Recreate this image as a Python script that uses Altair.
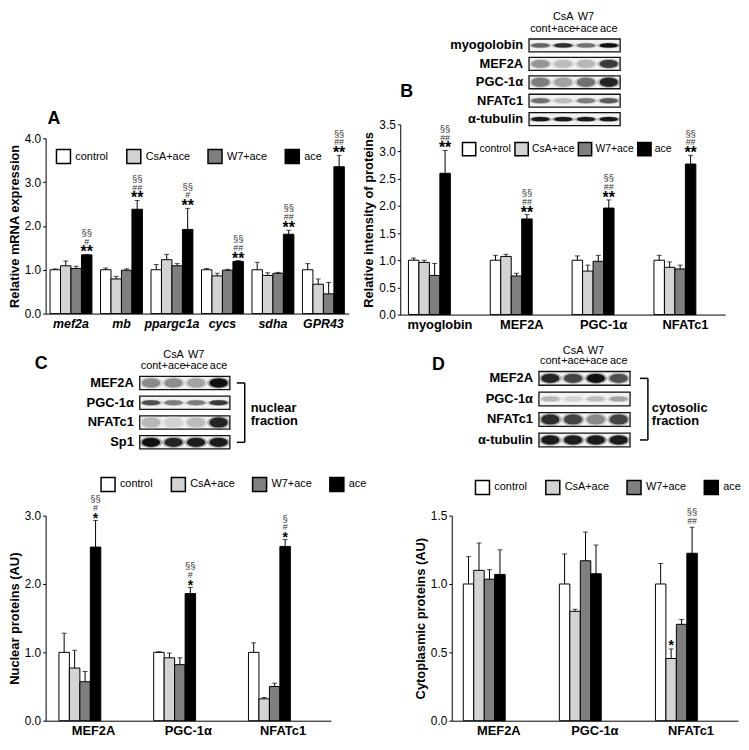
import altair as alt
import pandas as pd

FONT = "Liberation Sans"

groups = ["control", "CsA+ace", "W7+ace", "ace"]
group_fills = ["#ffffff", "#d3d3d3", "#7f7f7f", "#000000"]

# ---------------- Panel A (mRNA) ----------------
a_cats = ["mef2a", "mb", "ppargc1a", "cycs", "sdha", "GPR43"]
a_control = [1.00, 1.00, 1.00, 1.00, 1.00, 1.00]
a_csa = [1.09, 0.79, 1.23, 0.86, 0.87, 0.67]
a_w7 = [1.03, 0.99, 1.09, 0.99, 0.92, 0.45]
a_ace = [1.34, 2.38, 1.92, 1.19, 1.81, 3.35]
a_control_err = [0.02, 0.04, 0.12, 0.03, 0.17, 0.14]
a_csa_err = [0.11, 0.06, 0.12, 0.06, 0.06, 0.12]
a_w7_err = [0.05, 0.03, 0.05, 0.02, 0.02, 0.26]
a_ace_err = [0.01, 0.20, 0.48, 0.02, 0.09, 0.26]
a_ace_star = ["**", "**", "**", "**", "**", "**"]
a_ace_hash = ["#", "##", "#", "##", "##", "##"]
a_ace_sect = ["§§", "§§", "§§", "§§", "§§", "§§"]

# ---------------- Panel B (proteins) ----------------
b_cats = ["myoglobin", "MEF2A", "PGC-1α", "NFATc1"]
b_control = [1.00, 1.00, 1.00, 1.00]
b_csa = [0.96, 1.07, 0.80, 0.87]
b_w7 = [0.72, 0.71, 0.98, 0.84]
b_ace = [2.60, 1.76, 1.96, 2.77]
b_control_err = [0.04, 0.09, 0.08, 0.09]
b_csa_err = [0.04, 0.04, 0.11, 0.10]
b_w7_err = [0.22, 0.05, 0.11, 0.07]
b_ace_err = [0.42, 0.08, 0.15, 0.16]
b_ace_star = ["**", "**", "**", "**"]
b_ace_hash = ["##", "##", "##", "##"]
b_ace_sect = ["§§", "§§", "§§", "§§"]
b_blot_rows = ["myogolobin", "MEF2A", "PGC-1α", "NFATc1", "α-tubulin"]
b_blot = [[0.55, 0.80, 0.50, 0.95],
          [0.35, 0.20, 0.22, 0.75],
          [0.45, 0.30, 0.50, 0.85],
          [0.50, 0.20, 0.45, 0.60],
          [0.90, 0.90, 0.90, 0.92]]

# ---------------- Panel C (nuclear) ----------------
c_cats = ["MEF2A", "PGC-1α", "NFATc1"]
c_control = [1.00, 1.00, 1.00]
c_csa = [0.77, 0.92, 0.32]
c_w7 = [0.57, 0.82, 0.50]
c_ace = [2.54, 1.86, 2.55]
c_control_err = [0.28, 0.01, 0.14]
c_csa_err = [0.26, 0.07, 0.02]
c_w7_err = [0.15, 0.10, 0.05]
c_ace_err = [0.39, 0.09, 0.10]
c_ace_star = ["*", "*", "*"]
c_ace_hash = ["#", "#", "#"]
c_ace_sect = ["§§", "§§", "§"]
c_blot_rows = ["MEF2A", "PGC-1α", "NFATc1", "Sp1"]
c_blot = [[0.40, 0.38, 0.30, 0.95],
          [0.65, 0.45, 0.45, 0.75],
          [0.22, 0.12, 0.20, 0.85],
          [0.95, 0.85, 0.90, 0.90]]

# ---------------- Panel D (cytosolic) ----------------
d_cats = ["MEF2A", "PGC-1α", "NFATc1"]
d_control = [1.00, 1.00, 1.00]
d_csa = [1.10, 0.80, 0.455]
d_w7 = [1.035, 1.17, 0.705]
d_ace = [1.07, 1.075, 1.225]
d_control_err = [0.20, 0.22, 0.15]
d_csa_err = [0.20, 0.015, 0.07]
d_w7_err = [0.07, 0.21, 0.035]
d_ace_err = [0.18, 0.21, 0.19]
d_csa_star = ["", "", "*"]
d_ace_hash = ["", "", "##"]
d_ace_sect = ["", "", "§§"]
d_blot_rows = ["MEF2A", "PGC-1α", "NFATc1", "α-tubulin"]
d_blot = [[0.85, 0.70, 0.95, 0.65],
          [0.22, 0.12, 0.20, 0.30],
          [0.80, 0.70, 0.40, 0.70],
          [0.90, 0.90, 0.90, 0.90]]

lane_top = ["", "CsA", "W7", ""]
lane_bottom = ["cont", "+ace", "+ace", "ace"]
lane_pos = [0.5, 1.5, 2.5, 3.5]


def panel_df(cats, vals, errs, ann):
    recs = []
    for gi, g in enumerate(groups):
        a = ann.get(g, {})
        for ci, c in enumerate(cats):
            v = vals[gi][ci]
            e = errs[gi][ci]
            recs.append({
                "cat": c, "group": g, "value": v, "top": v + e,
                "star": a.get("star", [""] * len(cats))[ci],
                "hash": a.get("hash", [""] * len(cats))[ci],
                "sect": a.get("sect", [""] * len(cats))[ci],
            })
    return pd.DataFrame(recs)


def text_chart(txt, x, y, size=18, weight="bold", align="left", opacity=1.0):
    return alt.Chart(pd.DataFrame({"t": [txt]})).mark_text(
        align=align, baseline="middle", fontSize=size, fontWeight=weight, color="black",
        font=FONT, opacity=opacity).encode(x=alt.value(x), y=alt.value(y), text="t:N")


def bar_layers(df, cats, ymax, yticks, ytitle, yrange, pin, pout, italic, catsize,
               lx, ly, dys, starsize, colpad=12, legfont=11, symsize=200, laboff=4):
    xenc = alt.X("cat:N", sort=cats,
                 scale=alt.Scale(domain=cats, paddingInner=pin, paddingOuter=pout),
                 axis=alt.Axis(title=None, labelAngle=0, ticks=False, labelFontWeight="bold",
                               labelFontStyle="italic" if italic else "normal",
                               labelFontSize=catsize, labelPadding=4, labelColor="black",
                               domainColor="black", labelFont=FONT))
    xo = alt.XOffset("group:N", sort=groups,
                     scale=alt.Scale(domain=groups, paddingInner=0, paddingOuter=0))
    ys = alt.Scale(domain=[0, ymax], nice=False, zero=True, range=yrange)
    yax = alt.Axis(title=ytitle, values=yticks, format=".1f", grid=False, tickSize=3,
                   tickColor="black", domainColor="black", labelColor="black",
                   labelFontSize=12, titleFontSize=13, titleFontWeight="bold",
                   titleColor="black", labelPadding=2, titlePadding=3,
                   labelFont=FONT, titleFont=FONT)
    base = alt.Chart(df)
    bars = base.mark_bar(stroke="black", strokeWidth=1).encode(
        x=xenc, xOffset=xo,
        y=alt.Y("value:Q", scale=ys, axis=yax),
        fill=alt.Fill("group:N", sort=groups,
                      scale=alt.Scale(domain=groups, range=group_fills),
                      legend=alt.Legend(title=None, orient="none", legendX=lx, legendY=ly,
                                        direction="horizontal", symbolType="square",
                                        symbolSize=symsize, symbolStrokeColor="black",
                                        symbolStrokeWidth=1.5, symbolOpacity=1,
                                        labelFontSize=legfont, labelColor="black",
                                        labelOffset=laboff, columnPadding=colpad,
                                        labelFont=FONT, padding=0)))
    err = base.mark_rule(color="black", strokeWidth=1).encode(
        x=xenc, xOffset=xo, y=alt.Y("value:Q", scale=ys, axis=yax), y2="top:Q")
    cap = base.mark_tick(orient="horizontal", size=5, thickness=1, color="black").encode(
        x=xenc, xOffset=xo, y=alt.Y("top:Q", scale=ys, axis=yax))
    layers = [bars, err, cap]
    specs = [("star", dys[0], starsize, "bold", "black"),
             ("hash", dys[1], 9, "normal", "#333333"),
             ("sect", dys[2], 9.5, "normal", "#333333")]
    for field, dy, size, weight, color in specs:
        layers.append(base.transform_filter(f"datum.{field} != ''").mark_text(
            baseline="alphabetic", dy=dy, fontSize=size, fontWeight=weight, color=color,
            font=FONT).encode(
            x=xenc, xOffset=xo, y=alt.Y("top:Q", scale=ys, axis=yax),
            text=f"{field}:N"))
    return layers


def ellipse(half_px):
    r = (half_px / 9.1) / 0.75
    return f"M-1,0C-1,{-r:.3f} 1,{-r:.3f} 1,0C1,{r:.3f} -1,{r:.3f} -1,0Z"


def blot_layers(rows, intens, thick, xrange, yrange, pin, pout, head_y, bracket=None):
    band_df = pd.DataFrame([{"row": r, "lane": lane_pos[li], "dark": intens[ri][li]}
                            for ri, r in enumerate(rows) for li in range(4)])
    box_df = pd.DataFrame({"row": rows, "x0": [0] * len(rows), "x1": [4] * len(rows)})
    xs = alt.Scale(domain=[0, 4], range=xrange, nice=False, zero=False)
    ys = alt.Scale(domain=rows, range=yrange, paddingInner=pin, paddingOuter=pout)
    yenc = alt.Y("row:N", scale=ys, axis=None, sort=rows)
    boxes = alt.Chart(box_df).mark_rect(fill="#f2f2f2", stroke="#111111", strokeWidth=1.3).encode(
        x=alt.X("x0:Q", scale=xs, axis=None), x2="x1:Q", y=yenc)
    shapes = [ellipse(t) for t in thick]
    shape_enc = alt.Shape("row:N", scale=alt.Scale(domain=rows, range=shapes), legend=None)
    col_enc = alt.Color("dark:Q", scale=alt.Scale(domain=[0, 1], range=["#f2f2f2", "#000000"]),
                        legend=None)
    halo = alt.Chart(band_df).mark_point(filled=True, opacity=0.35, strokeWidth=0, size=520).encode(
        x=alt.X("lane:Q", scale=xs, axis=None), y=yenc, shape=shape_enc, color=col_enc)
    bands = alt.Chart(band_df).mark_point(filled=True, opacity=1, strokeWidth=0, size=330).encode(
        x=alt.X("lane:Q", scale=xs, axis=None), y=yenc, shape=shape_enc, color=col_enc)
    lab_df = pd.DataFrame({"row": rows, "x0": [0] * len(rows)})
    labels = alt.Chart(lab_df).mark_text(align="right", dx=-6, fontWeight="bold", fontSize=13,
                                         color="black", font=FONT).encode(
        x=alt.X("x0:Q", scale=xs, axis=None), y=yenc, text="row:N")
    hdf = pd.DataFrame({"lane": lane_pos, "top": lane_top, "bottom": lane_bottom})
    h1 = alt.Chart(hdf).mark_text(baseline="middle", fontSize=11, color="black", font=FONT).encode(
        x=alt.X("lane:Q", scale=xs, axis=None), y=alt.value(head_y[1]), text="bottom:N")
    h2 = alt.Chart(hdf).mark_text(baseline="middle", fontSize=11, color="black", font=FONT).encode(
        x=alt.X("lane:Q", scale=xs, axis=None), y=alt.value(head_y[0]), text="top:N")
    layers = [boxes, halo, bands, labels, h1, h2]
    if bracket is not None:
        bx, tx, ty, txt = bracket
        bdf = pd.DataFrame({"row": [rows[0]], "r2": [rows[-1]]})
        vline = alt.Chart(bdf).mark_rule(color="black", strokeWidth=1.5).encode(
            x=alt.value(bx), y=yenc, y2="r2:N")
        tdf = pd.DataFrame({"row": [rows[0], rows[-1]]})
        ticks = alt.Chart(tdf).mark_rule(color="black", strokeWidth=1.5).encode(
            x=alt.value(bx - 8), x2=alt.value(bx), y=yenc)
        btxt = alt.Chart(pd.DataFrame({"t": [txt]})).mark_text(
            lineBreak="\n", align="left", baseline="middle", fontWeight="bold", fontSize=13,
            lineHeight=13, color="black", font=FONT).encode(
            x=alt.value(tx), y=alt.value(ty), text="t:N")
        layers += [vline, ticks, btxt]
    return layers


# ---- data frames
dfA = panel_df(a_cats, [a_control, a_csa, a_w7, a_ace],
               [a_control_err, a_csa_err, a_w7_err, a_ace_err],
               {"ace": {"star": a_ace_star, "hash": a_ace_hash, "sect": a_ace_sect}})
dfB = panel_df(b_cats, [b_control, b_csa, b_w7, b_ace],
               [b_control_err, b_csa_err, b_w7_err, b_ace_err],
               {"ace": {"star": b_ace_star, "hash": b_ace_hash, "sect": b_ace_sect}})
dfC = panel_df(c_cats, [c_control, c_csa, c_w7, c_ace],
               [c_control_err, c_csa_err, c_w7_err, c_ace_err],
               {"ace": {"star": c_ace_star, "hash": c_ace_hash, "sect": c_ace_sect}})
dfD = panel_df(d_cats, [d_control, d_csa, d_w7, d_ace],
               [d_control_err, d_csa_err, d_w7_err, d_ace_err],
               {"CsA+ace": {"star": d_csa_star},
                "ace": {"hash": d_ace_hash, "sect": d_ace_sect}})

# ---- panel A
A_H = 191
A = alt.layer(
    *bar_layers(dfA, a_cats, 4.0, [0, 1, 2, 3, 4], "Relative mRNA expression", [A_H, 14],
                0.17, 0.087, True, 12.5, 10, 24, (3, -10, -19), 16, colpad=14),
    text_chart("A", 2, -5)
).properties(width=306, height=A_H)

# ---- panel B
B_H = 192
B_bar = alt.layer(*bar_layers(dfB, b_cats, 3.5, [0, 0.5, 1, 1.5, 2, 2.5, 3, 3.5],
                              "Relative intensity of  proteins", [B_H, 0],
                              0.23, 0.1, False, 13, 62, 17, (3, -10, -19), 16, colpad=0,
                              legfont=10.5, symsize=180, laboff=3))
B_blot = alt.layer(*blot_layers(b_blot_rows, b_blot, [2.2, 4.0, 4.5, 2.5, 2.2],
                                [130, 222], [-89, 4], 0.3, 0.15, (-108, -96)),
                   text_chart("B", 0, -33))
B = alt.layer(B_bar, B_blot).resolve_scale(x="independent", y="independent").properties(
    width=328, height=B_H)

# ---- panel C
C_H = 207
C_bar = alt.layer(*bar_layers(dfC, c_cats, 3.0, [0, 1, 2, 3], "Nuclear proteins (AU)",
                              [C_H, 0], 0.27, 0.14, False, 13, 55, -40,
                              (2.3, -10, -18.2), 14, colpad=14))
C_blot = alt.layer(*blot_layers(c_blot_rows, c_blot, [4.5, 2.5, 5.0, 4.5],
                                [95, 186], [-144, -64], 0.33, 0.167, (-162, -151),
                                bracket=(201, 207, -109, "nuclear\nfraction")),
                   text_chart("C", -11, -153))
C = alt.layer(C_bar, C_blot).resolve_scale(x="independent", y="independent").properties(
    width=288, height=C_H)

# ---- panel D
D_H = 207
D_bar = alt.layer(*bar_layers(dfD, d_cats, 1.5, [0, 0.5, 1, 1.5], "Cytoplasmic proteins (AU)",
                              [D_H, 0], 0.26, 0.12, False, 13, 23, -37,
                              (1.3, -3, -12.5), 14, colpad=14))
D_blot = alt.layer(*blot_layers(d_blot_rows, d_blot, [5.0, 4.0, 3.5, 2.2],
                                [88, 180], [-149, -66], 0.33, 0.167, (-166, -156),
                                bracket=(198, 202, -109, "cytosolic\nfraction")),
                   text_chart("D", -20, -152))
D = alt.layer(D_bar, D_blot).resolve_scale(x="independent", y="independent").properties(
    width=289, height=D_H)

row1 = alt.hconcat(A, B, spacing=14).resolve_scale(fill="independent").resolve_legend(
    fill="independent")
row2 = alt.hconcat(C, D, spacing=48).resolve_scale(fill="independent").resolve_legend(
    fill="independent")

chart = alt.vconcat(row1, row2, spacing=14).resolve_scale(
    fill="independent", color="independent", shape="independent"
).resolve_legend(fill="independent").properties(
    padding=0, background="white"
).configure_view(stroke=None).configure_axis(labelFont=FONT, titleFont=FONT)

chart.save("out.html", embed_options={"renderer": "svg", "actions": False})
